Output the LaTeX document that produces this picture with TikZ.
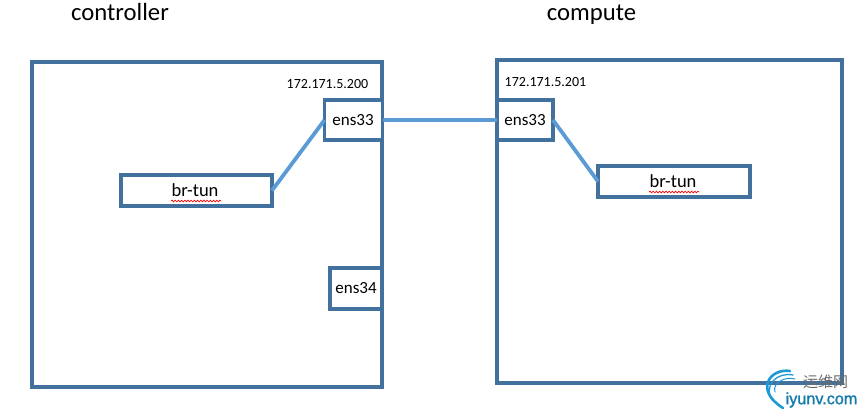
\documentclass[tikz,border=0pt]{standalone}
\usepackage{fontspec}
\setmainfont{Carlito}
\newfontfamily\cjk{Noto Sans CJK SC}
\newfontfamily\wm{Liberation Sans}[FakeBold=1.5]
\usetikzlibrary{decorations.pathmorphing}
\definecolor{boxblue}{HTML}{41719C}
\definecolor{linkblue}{HTML}{5B9BD5}
\definecolor{wmblue}{HTML}{1C9AD6}
\tikzset{
  x=1pt,y=-1pt,
  frame/.style={draw=boxblue,line width=3.8pt,fill=white,inner sep=0pt,outer sep=0pt},
  wire/.style={draw=linkblue,line width=3.8pt},
  lbl/.style={font=\fontsize{17}{19}\selectfont,text=black,inner sep=0pt},
  ip/.style={font=\fontsize{14}{16}\selectfont,text=black,inner sep=0pt},
  title/.style={font=\fontsize{24.7}{28}\selectfont,text=black,inner sep=0pt},
  squiggle/.style={draw=red,line width=0.7pt,decorate,decoration={snake,amplitude=0.8pt,segment length=3.2pt}}
}
\begin{document}
\begin{tikzpicture}
\useasboundingbox (0,0) rectangle (865,416);
\node[frame,minimum width=350pt,minimum height=325pt] (ctrl) at (207,224.5) {};
\node[frame,minimum width=345pt,minimum height=323pt] (comp) at (669.5,221.5) {};
\node[frame,minimum width=58pt,minimum height=40pt] (e1) at (353.5,120) {};
\node[frame,minimum width=56pt,minimum height=40pt] (e2) at (525,120) {};
\node[frame,minimum width=52pt,minimum height=41pt] (e3) at (356,288.5) {};
\node[frame,minimum width=151pt,minimum height=31pt] (b1) at (196.5,190.5) {};
\node[frame,minimum width=152pt,minimum height=31pt] (b2) at (674,181.5) {};
\draw[wire] (e1.east) -- (e2.west);
\draw[wire] (b1.east) -- (e1.west);
\draw[wire] (e2.east) -- (b2.west);
\node[lbl] at (353,120) {ens33};
\node[lbl] at (525,120) {ens33};
\node[lbl] at (356,288.5) {ens34};
\node[lbl] (t1) at (195,190.5) {\fontsize{18.5}{20}\selectfont br-tun};
\node[lbl] (t2) at (673,181.5) {\fontsize{18.5}{20}\selectfont br-tun};
\draw[squiggle] (171,201) -- (221,201);
\draw[squiggle] (649,192) -- (699,192);
\node[ip] at (327.5,84) {172.171.5.200};
\node[ip] at (545.5,82) {172.171.5.201};
\node[title] at (120,12) {controller};
\node[title] at (591.5,15) {compute};
% watermark
\draw[wmblue,line width=2.6pt,line cap=round] (790,371) .. controls (770,368) and (754,390) .. (783,408);
\draw[wmblue,line width=1.3pt,line cap=round] (793,375) .. controls (778,372) and (763,384) .. (772,400);
\draw[wmblue,line width=1pt,line cap=round] (795,379) .. controls (785,376) and (772,383) .. (775,392);
\node[inner sep=0pt,text=gray!85!black,font=\cjk\fontsize{15}{17}\selectfont] (w1) at (825.5,382) {运维网};
\node[inner sep=0pt,text=wmblue!80!black,font=\wm\fontsize{16.2}{18}\selectfont] (w2) at (821.5,400) {iyunv.com};
\end{tikzpicture}
\end{document}
